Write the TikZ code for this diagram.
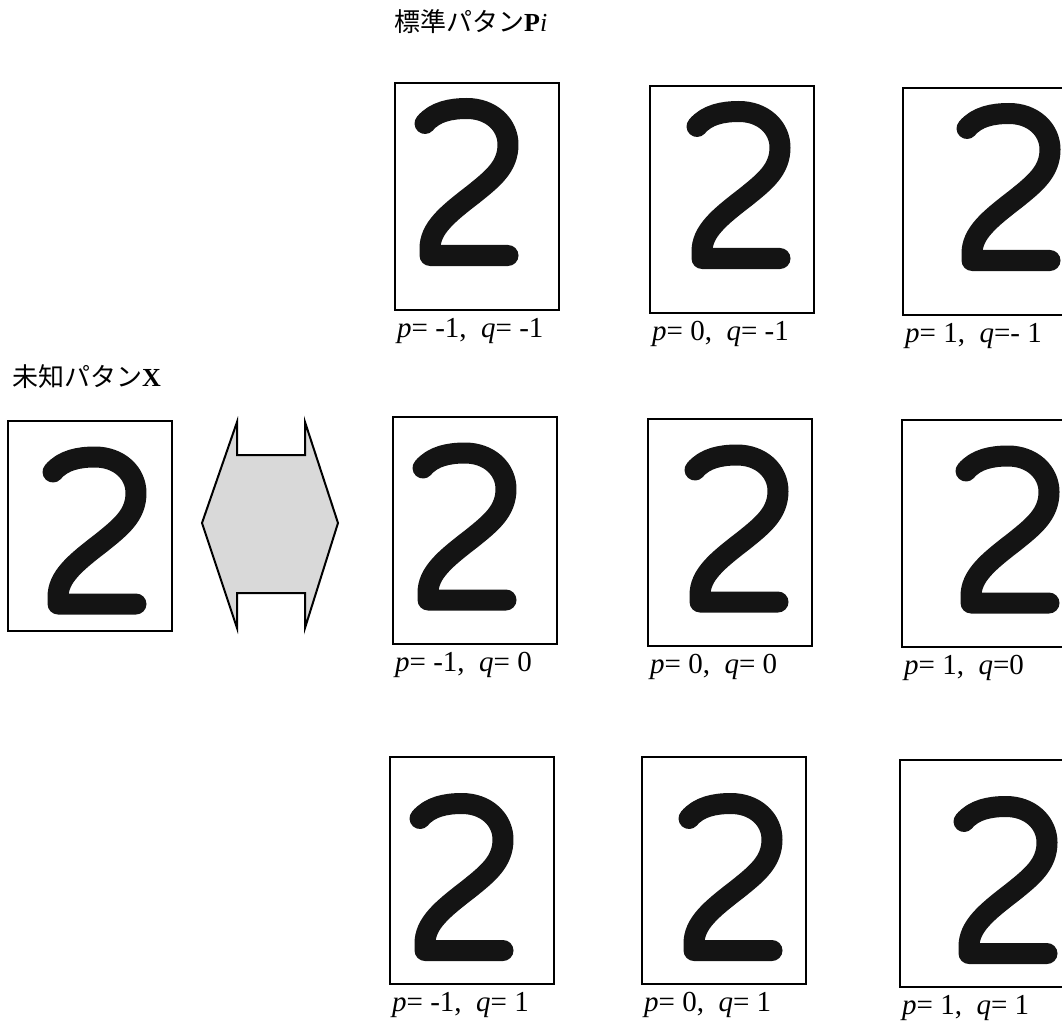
\documentclass[tikz,border=0pt]{standalone}
\usepackage{fontspec}
\setmainfont{Liberation Serif}
\newfontfamily\jpfont{Noto Sans CJK JP}
\tikzset{
  pbox/.style={draw, line width=1.1pt, minimum width=164pt, minimum height=227pt, inner sep=0pt, outer sep=0pt},
  glyph/.style={line width=21pt, line cap=round, line join=round, draw=black!92},
  lbl/.style={inner sep=0pt, font=\fontsize{29pt}{34pt}\selectfont},
  ttl/.style={inner sep=0pt, anchor=base west, font=\fontsize{26pt}{32pt}\selectfont},
  swap/.style={draw, line width=2pt, fill=black!15, line join=miter}
}
\newcommand\twopath{(10,25) .. controls (20,13) and (36,10) .. (52,10)
  .. controls (76,10) and (93,26) .. (93,46)
  .. controls (93,68) and (78,80) .. (58,96)
  .. controls (32,116) and (15,130) .. (15,150)
  -- (15,157) -- (93,157)}
\newcommand\patbox[6]{%
  \node[pbox, anchor=north west] (#1) at (#2,#3) {};
  \draw[glyph, shift={(#2+37+17*#4, #3+26+10.5*#5)}] \twopath;
  \node[lbl, anchor=base west] (#1l) at ([xshift=2pt,yshift=-27pt]#1.south west) {#6};
}
\begin{document}
\begin{tikzpicture}[x=1pt,y=-1pt]
\useasboundingbox (0,0) rectangle (1062,1024);
\clip (0,0) rectangle (1062,1024);
% titles
\node[ttl] (tP) at (394,32) {{\jpfont 標準パタン}\textbf{P}\textit{i}};
\node[ttl] (tX) at (12,386) {{\jpfont 未知パタン}\textbf{X}};
% unknown pattern
\node[pbox, anchor=north west, minimum height=210pt] (bx) at (8,421) {};
\draw[glyph, shift={(43,447)}] \twopath;
% swap arrow
\draw[swap] (237,422) -- (237,455) -- (305,455) -- (305,422) -- (338,523)
  -- (305,628) -- (305,593) -- (237,593) -- (237,628) -- (202,523) -- cycle;
% standard patterns
\patbox{b11}{395}{83}{-1}{-1}{\textit{p}= -1,\ \ \textit{q}= -1}
\patbox{b12}{650}{86}{0}{-1}{\textit{p}= 0,\ \ \textit{q}= -1}
\patbox{b13}{903}{88}{1}{-1}{\textit{p}= 1,\ \ \textit{q}=- 1}
\patbox{b21}{393}{417}{-1}{0}{\textit{p}= -1,\ \ \textit{q}= 0}
\patbox{b22}{648}{419}{0}{0}{\textit{p}= 0,\ \ \textit{q}= 0}
\patbox{b23}{902}{420}{1}{0}{\textit{p}= 1,\ \ \textit{q}=0}
\patbox{b31}{390}{757}{-1}{1}{\textit{p}= -1,\ \ \textit{q}= 1}
\patbox{b32}{642}{757}{0}{1}{\textit{p}= 0,\ \ \textit{q}= 1}
\patbox{b33}{900}{760}{1}{1}{\textit{p}= 1,\ \ \textit{q}= 1}
\end{tikzpicture}
\end{document}
